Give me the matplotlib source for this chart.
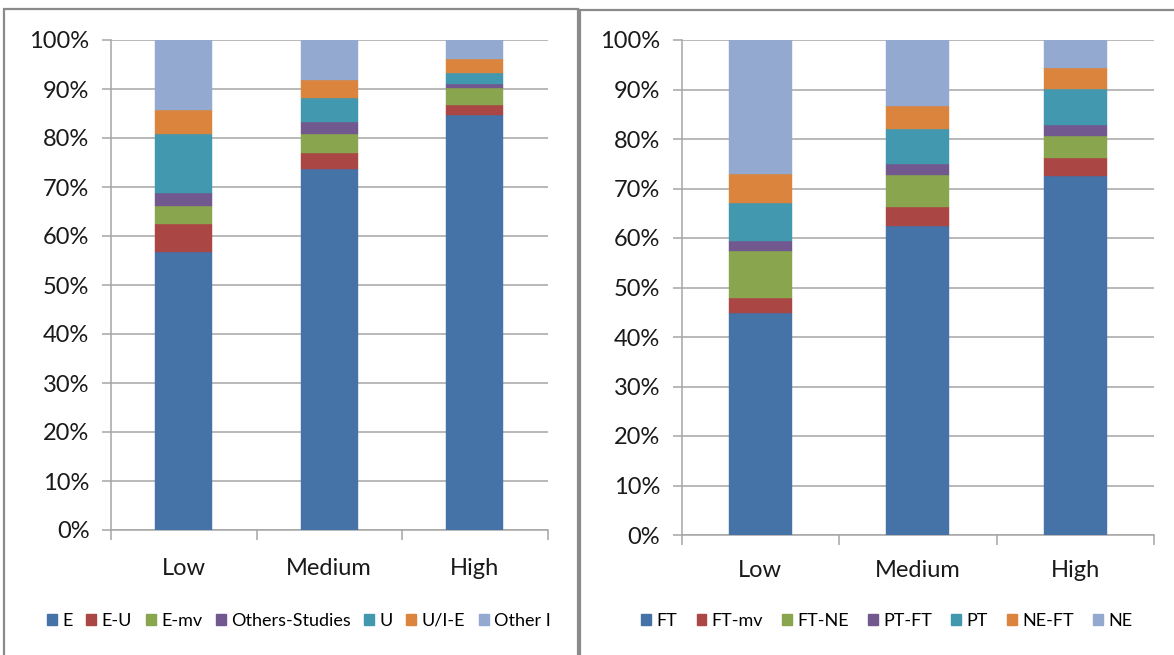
import matplotlib
matplotlib.use("Agg")
import matplotlib.pyplot as plt
from matplotlib.patches import Rectangle, Patch
import numpy as np

plt.rcParams['font.family'] = ['Lato', 'DejaVu Sans']

categories = ["Low", "Medium", "High"]

left_series = ["E", "E-U", "E-mv", "Others-Studies", "U", "U/I-E", "Other I"]
left_E = [56.8, 73.7, 84.6]
left_EU = [5.6, 3.2, 2.1]
left_Emv = [3.8, 4.0, 3.5]
left_Others = [2.6, 2.4, 0.9]
left_U = [12.1, 4.8, 2.1]
left_UIE = [4.8, 3.8, 2.9]
left_OtherI = [14.3, 8.1, 3.9]

right_series = ["FT", "FT-mv", "FT-NE", "PT-FT", "PT", "NE-FT", "NE"]
right_FT = [44.8, 62.5, 72.6]
right_FTmv = [3.1, 3.8, 3.6]
right_FTNE = [9.4, 6.5, 4.4]
right_PTFT = [2.1, 2.1, 2.3]
right_PT = [7.7, 7.1, 7.3]
right_NEFT = [5.8, 4.6, 4.2]
right_NE = [27.1, 13.4, 5.6]

colors = ["#4572A7", "#AA4643", "#89A54E", "#71588F", "#4198AF", "#DB843D", "#93A9CF"]

W, H = 1174, 655
fig = plt.figure(figsize=(W / 100, H / 100), dpi=100)

# panel frames
fig.patches.append(Rectangle((4 / W, -0.1), 574 / W, 1.1 - 9 / H,
                             transform=fig.transFigure, fill=False, ec="#8a8a8a", lw=1.6))
fig.patches.append(Rectangle((580 / W, -0.1), 700 / W, 1.1 - 10 / H,
                             transform=fig.transFigure, fill=False, ec="#8a8a8a", lw=1.6))


def make_axes(l, r, b, t):
    return fig.add_axes([l / W, 1 - b / H, (r - l) / W, (b - t) / H])


def draw(ax, series_names, data, width, label_pad, legend_center, colspace):
    x = np.arange(len(categories))
    bottom = np.zeros(len(categories))
    handles = []
    for name, vals, c in zip(series_names, data, colors):
        ax.bar(x, vals, width, bottom=bottom, color=c, zorder=3, edgecolor=c, linewidth=0.3)
        bottom += np.array(vals)
        handles.append(Patch(facecolor=c, edgecolor=c, label=name))
    ax.set_xlim(-0.5, 2.5)
    ax.set_ylim(0, 100)
    ax.set_yticks(np.arange(0, 101, 10))
    ax.set_yticklabels([f"{v}%" for v in range(0, 101, 10)])
    ax.grid(axis="y", color="#a6a6a6", lw=1.1, zorder=0)
    ax.set_axisbelow(True)
    for s in ["top", "right"]:
        ax.spines[s].set_visible(False)
    for s in ["left", "bottom"]:
        ax.spines[s].set_color("#a6a6a6")
        ax.spines[s].set_linewidth(1.1)
    ax.set_xticks(x)
    ax.set_xticklabels(categories)
    ax.set_xticks([-0.5, 0.5, 1.5, 2.5], minor=True)
    ax.tick_params(axis="x", which="major", length=0, pad=label_pad, labelsize=17, colors="#1a1a1a")
    ax.tick_params(axis="x", which="minor", length=7, width=1.1, color="#a6a6a6")
    ax.tick_params(axis="y", length=6.5, width=1.1, color="#a6a6a6", labelsize=17, pad=9, labelcolor="#1a1a1a")
    fig.legend(handles=handles, loc="center", bbox_to_anchor=(legend_center[0] / W, 1 - legend_center[1] / H),
               ncol=7, frameon=False, fontsize=13, handlelength=0.55, handleheight=0.55,
               handletextpad=0.3, columnspacing=colspace, borderaxespad=0)


axL = make_axes(111, 547.5, 530, 40)
draw(axL, left_series, [left_E, left_EU, left_Emv, left_Others, left_U, left_UIE, left_OtherI],
     0.39, 20, (299, 621), 0.75)

axR = make_axes(681.5, 1154, 535, 40)
draw(axR, right_series, [right_FT, right_FTmv, right_FTNE, right_PTFT, right_PT, right_NEFT, right_NE],
     0.4, 18, (887, 621), 1.05)

fig.savefig("out.png", dpi=100)
